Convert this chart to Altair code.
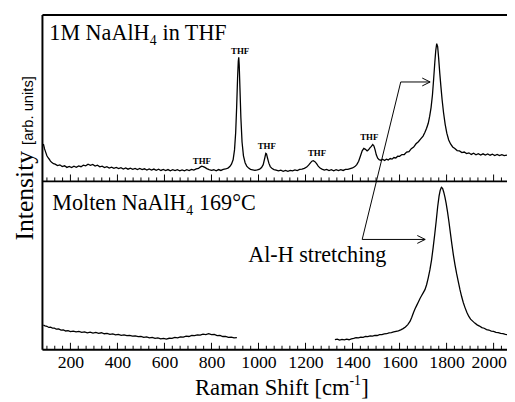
import altair as alt
import pandas as pd

# ---------------- data ----------------
# Raman shift [cm-1] vs intensity (arb. units, heights above each panel's baseline)
thf_spectrum = [
    (85, 38), (90, 33), (95, 29.5), (100, 26), (105, 24), (110, 22.5), (115, 20.5), (120, 19.5),
    (128, 18), (135, 17.5), (145, 16), (155, 16.8), (165, 15), (175, 15.8), (185, 14.2), (195, 15.2),
    (205, 14), (215, 15.4), (225, 14.3), (235, 15.7), (245, 14.9), (255, 16.4), (265, 15.8), (275, 17.4),
    (285, 16.4), (295, 17.2), (305, 15.6), (315, 16.4), (325, 14.8), (335, 15.5), (345, 14), (355, 15),
    (365, 13.6), (375, 14.5), (385, 13.3), (395, 14.2), (405, 13), (415, 14), (425, 12.6), (435, 13.7),
    (445, 12.4), (455, 13.4), (465, 12.2), (475, 13.2), (485, 12), (495, 13.1), (505, 11.9), (515, 12.8),
    (525, 11.6), (535, 12.7), (545, 11.5), (555, 12.5), (565, 11.3), (575, 12.3), (585, 11.1), (595, 12.1),
    (605, 11), (615, 12), (625, 10.8), (635, 11.9), (645, 10.9), (655, 11.8), (665, 10.7), (675, 11.7),
    (685, 10.8), (695, 11.8), (705, 11), (715, 12.2), (725, 11.4), (735, 12.6), (745, 13.2), (752, 14.5),
    (758, 15.5), (765, 15), (772, 14.2), (780, 13), (790, 12), (800, 11.2), (810, 11.8), (820, 10.8),
    (830, 12), (840, 11.1), (850, 12.2), (860, 12.6), (870, 13.5), (878, 15), (885, 17.5), (892, 22),
    (898, 32), (903, 50), (907, 75), (911, 105), (914, 122), (916, 126), (918, 118), (921, 95),
    (925, 65), (930, 40), (936, 26), (943, 19), (950, 15.5), (958, 13.5), (966, 12.2), (975, 11.8),
    (985, 11.2), (995, 11.8), (1005, 12.5), (1013, 14), (1020, 17), (1026, 23), (1031, 28.5), (1034, 28),
    (1038, 24), (1044, 18.5), (1050, 15), (1058, 13), (1066, 12), (1075, 11.5), (1085, 10.6), (1095, 11.4),
    (1105, 10.3), (1115, 11.2), (1125, 10.2), (1135, 11.2), (1145, 10.6), (1155, 11.7), (1165, 11), (1175, 12.2),
    (1185, 12.4), (1195, 13.2), (1205, 14.5), (1213, 16.5), (1220, 18.5), (1227, 20.5), (1233, 21), (1240, 20),
    (1247, 18), (1254, 15.5), (1262, 13.5), (1270, 12.5), (1280, 11.4), (1290, 12.2), (1300, 11), (1310, 11.9),
    (1320, 10.8), (1330, 11.8), (1340, 10.9), (1350, 12), (1360, 11.1), (1370, 12.2), (1380, 12.2), (1390, 13),
    (1400, 13.6), (1410, 15), (1418, 17), (1426, 20.5), (1434, 26), (1441, 31), (1448, 33.5), (1455, 32.5),
    (1462, 31), (1468, 32), (1474, 34), (1480, 35.5), (1486, 37.5), (1491, 36), (1496, 32), (1501, 27),
    (1507, 23.5), (1513, 22), (1520, 21.5), (1528, 22.4), (1536, 21.2), (1544, 22.6), (1552, 21.8), (1560, 23.2),
    (1568, 22.6), (1576, 24.2), (1584, 23.8), (1592, 25.6), (1600, 25.4), (1610, 27.2), (1620, 27.3), (1630, 29.7),
    (1640, 30.3), (1650, 33.2), (1660, 34.8), (1670, 38.2), (1680, 40.3), (1690, 43.2), (1700, 46), (1708, 50),
    (1715, 54), (1722, 59), (1728, 66), (1734, 75), (1740, 88), (1745, 104), (1750, 121), (1754, 133),
    (1758, 140), (1762, 137), (1766, 126), (1771, 110), (1776, 96), (1781, 83), (1787, 70), (1794, 58),
    (1801, 49), (1809, 42), (1817, 38), (1826, 35), (1835, 33.5), (1845, 31.3), (1855, 31), (1865, 29.3),
    (1875, 29.8), (1885, 28.2), (1895, 29), (1905, 27.4), (1915, 28.6), (1925, 27.1), (1935, 28.2), (1945, 26.8),
    (1955, 28), (1965, 26.7), (1975, 27.8), (1985, 26.6), (1995, 27.6), (2005, 26.3), (2015, 27.4), (2025, 26.2),
    (2035, 27.2), (2045, 26.1), (2057, 26.8),
]

molten_low = [
    (85, 25), (92, 24.2), (100, 23.8), (108, 22.6), (116, 22.9), (124, 21.8), (132, 21.9), (140, 20.8),
    (150, 21), (160, 19.9), (170, 20.1), (180, 19), (190, 19.4), (200, 18.4), (212, 18.9), (224, 18),
    (236, 18.5), (248, 17.6), (260, 18.1), (272, 17.2), (284, 17.8), (296, 16.9), (308, 17.5), (320, 16.6),
    (332, 17.2), (344, 16.2), (356, 16.6), (368, 15.6), (380, 16), (392, 15), (404, 15.5), (416, 14.6),
    (428, 15), (440, 14.2), (452, 14.6), (464, 13.7), (476, 14), (488, 13.2), (500, 13.6), (512, 12.6),
    (524, 13), (536, 12), (548, 12.5), (560, 11.6), (572, 12), (584, 11), (596, 11.5), (608, 10.8),
    (620, 11.6), (632, 11.4), (644, 12.4), (656, 12), (668, 13), (680, 12.8), (692, 13.8), (704, 13.4),
    (716, 14.4), (728, 14.2), (740, 15), (752, 14.8), (764, 15.8), (776, 15.4), (788, 16.2), (800, 15.2),
    (812, 15.4), (824, 14.2), (836, 14.4), (848, 13.4), (860, 13.6), (872, 12.6), (884, 12.8), (896, 12),
    (908, 12.2),
]

molten_high = [
    (1325, 10.2), (1335, 10.8), (1345, 9.8), (1355, 10.4), (1365, 9.9), (1375, 10.6), (1385, 10.1), (1395, 11),
    (1405, 11.4), (1415, 12.2), (1425, 12), (1435, 12.8), (1445, 12.6), (1455, 13.4), (1465, 13.2), (1475, 14),
    (1485, 13.8), (1495, 14.6), (1505, 14.4), (1515, 15.2), (1525, 15.2), (1535, 16), (1545, 16.2), (1555, 17),
    (1565, 17.4), (1575, 18), (1585, 18.6), (1595, 19.2), (1605, 20.2), (1615, 21.4), (1625, 23), (1635, 25.5),
    (1645, 29), (1652, 33), (1659, 37.5), (1666, 41.5), (1673, 45), (1680, 48.5), (1687, 52), (1694, 55),
    (1701, 58), (1708, 61), (1715, 66), (1722, 73), (1729, 81), (1736, 91), (1743, 104), (1750, 118),
    (1756, 131), (1762, 145), (1768, 156), (1773, 162), (1778, 165), (1783, 164), (1788, 160), (1793, 155),
    (1798, 149), (1804, 140), (1810, 130), (1816, 119), (1822, 108), (1829, 96), (1836, 86), (1843, 77),
    (1850, 69), (1857, 61), (1864, 54), (1871, 48), (1878, 43), (1886, 38), (1894, 34), (1902, 31),
    (1911, 29), (1920, 27), (1930, 25.2), (1940, 24), (1950, 22.4), (1960, 21.8), (1970, 20.4), (1980, 20),
    (1990, 18.9), (2000, 18.6), (2010, 17.6), (2020, 17.4), (2030, 16.6), (2040, 16.4), (2050, 15.6), (2057, 15.4),
]

tick_labels = [200, 400, 600, 800, 1000, 1200, 1400, 1600, 1800, 2000]
minor_step = 200 / 6

thf_label_x = [759, 922, 1035, 1249, 1471]
thf_label_y = [189, 300, 204, 197, 213]

# arrow path (shift, intensity) : corner -> heads
arrow_segments = [
    (1605, 272, 1730, 272),
    (1605, 272, 1441, 112),
    (1441, 112, 1709, 112),
]
arrow_heads = [(1730, 272), (1709, 112)]

# ---------------- layout constants ----------------
X_MIN, X_MAX = 81, 2057
PANEL = 171          # bottom panel height in intensity units (top panel sits above it)
Y_MAX = 340
SERIF = "Liberation Serif"
SANS = "Liberation Sans"

rows = []
for x, y in thf_spectrum:
    rows.append({"shift": x, "intensity": y + PANEL, "trace": "thf"})
for x, y in molten_low:
    rows.append({"shift": x, "intensity": y, "trace": "molten_a"})
for x, y in molten_high:
    rows.append({"shift": x, "intensity": y, "trace": "molten_b"})
spec_df = pd.DataFrame(rows)

xscale = alt.Scale(domain=[X_MIN, X_MAX], nice=False, zero=False)
yscale = alt.Scale(domain=[0, Y_MAX], nice=False, zero=False)
xaxis = alt.Axis(values=tick_labels, format="d", ticks=False, tickSize=0, domain=False, grid=False,
                 labelFont=SERIF, labelFontSize=18, labelColor="black", labelPadding=4,
                 labelFlush=15, labelFlushOffset=13, labelOverlap=False, title=None)


def X(field="shift"):
    return alt.X(f"{field}:Q", scale=xscale, axis=xaxis)


def Y(field="intensity"):
    return alt.Y(f"{field}:Q", scale=yscale, axis=None)


lines = alt.Chart(spec_df).mark_line(color="black", strokeWidth=1.3).encode(
    x=X(), y=Y(), detail="trace:N", order="shift:Q"
)

# frame
frame_df = pd.DataFrame([
    {"x": X_MIN, "x2": X_MIN, "y": 0, "y2": Y_MAX},
    {"x": X_MIN, "x2": X_MAX, "y": Y_MAX, "y2": Y_MAX},
    {"x": X_MIN, "x2": X_MAX, "y": PANEL, "y2": PANEL},
    {"x": X_MIN, "x2": X_MAX, "y": 0, "y2": 0},
])
frame = alt.Chart(frame_df).mark_rule(color="black", strokeWidth=2).encode(
    x=X("x"), x2="x2:Q", y=Y("y"), y2="y2:Q"
)

# inward ticks on the divider and on the bottom edge
tick_rows = []
k = 0
while True:
    v = 100 + k * minor_step
    if v > X_MAX:
        break
    major = abs(v / 200 - round(v / 200)) < 1e-6
    ln = 7 if major else 4
    for base in (0, PANEL):
        tick_rows.append({"x": v, "y": base, "y2": base + ln})
    k += 1
ticks = alt.Chart(pd.DataFrame(tick_rows)).mark_rule(color="black", strokeWidth=1).encode(
    x=X("x"), y=Y("y"), y2="y2:Q"
)

# THF labels
thf_df = pd.DataFrame({"shift": thf_label_x, "intensity": thf_label_y, "t": ["THF"] * len(thf_label_x)})
thf_labels = alt.Chart(thf_df).mark_text(font=SERIF, fontWeight="bold", fontSize=9, align="center",
                                         baseline="alphabetic", color="black").encode(
    x=X(), y=Y(), text="t:N"
)

# arrows
seg_df = pd.DataFrame(arrow_segments, columns=["x", "y", "x2", "y2"])
arrows = alt.Chart(seg_df).mark_rule(color="black", strokeWidth=1).encode(
    x=X("x"), y=Y("y"), x2="x2:Q", y2="y2:Q"
)
head_df = pd.DataFrame(arrow_heads, columns=["shift", "intensity"])
heads = alt.Chart(head_df).mark_point(shape="M -1 -0.5 L 0 0 L -1 0.5", filled=False, color="black",
                                      strokeWidth=1, size=256, opacity=1).encode(x=X(), y=Y())


def data_text(text, x, y, size, dx=0, dy=0, font=SERIF):
    df = pd.DataFrame({"shift": [x], "intensity": [y], "t": [text]})
    return alt.Chart(df).mark_text(font=font, fontSize=size, align="left", baseline="alphabetic",
                                   dx=dx, dy=dy, color="black").encode(x=X(), y=Y(), text="t:N")


def pixel_text(text, px, py, size, font=SERIF, angle=0):
    df = pd.DataFrame({"t": [text]})
    return alt.Chart(df).mark_text(font=font, fontSize=size, align="left", baseline="alphabetic",
                                   angle=angle, color="black").encode(
        x=alt.value(px), y=alt.value(py), text="t:N")


texts = [
    data_text("1M NaAlH", 110.3, 315, 22.5),
    data_text("4", 110.3, 315, 14, dx=102, dy=5),
    data_text("in THF", 110.3, 315, 22.5, dx=115),
    data_text("Molten NaAlH", 122.9, 142, 22.5),
    data_text("4", 122.9, 142, 14, dx=136, dy=5),
    data_text("169°C", 122.9, 142, 22.5, dx=149),
    data_text("Al-H stretching", 956, 89, 22.5),
    pixel_text("Intensity", -10, 229, 26, angle=270),
    pixel_text("[arb. units]", -10, 132, 15, font=SANS, angle=270),
    pixel_text("Raman Shift [cm", 155, 386, 23),
    pixel_text("-1", 312, 376, 14),
    pixel_text("]", 324, 386, 23),
]

chart = alt.layer(frame, ticks, lines, thf_labels, arrows, heads, *texts).properties(
    width=472, height=340,
    autosize=alt.AutoSizeParams(type="none"),
    padding={"left": 35, "top": 4, "right": 0, "bottom": 50},
    background="white",
).configure_view(stroke=None)

chart.save("out.html", embed_options={"renderer": "svg", "actions": False})
